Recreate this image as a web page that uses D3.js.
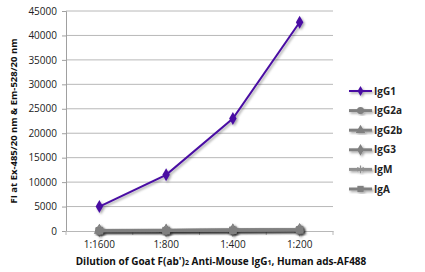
<!DOCTYPE html>
<html><head><meta charset="utf-8">
<script src="https://cdn.jsdelivr.net/npm/d3@7"></script>
<style>body{margin:0;background:#fff}svg{display:block}text{font-family:"Open Sans","Noto Sans",sans-serif}</style>
</head><body><svg id="c" width="425" height="272"></svg>
<script>
const categories = ["1:1600","1:800","1:400","1:200"];
const IgG1 = [5000, 11500, 23000, 42700];
const IgG2a = [100, 120, 180, 300];
const IgG2b = [90, 110, 160, 260];
const IgG3 = [80, 100, 150, 240];
const IgM = [110, 130, 200, 320];
const IgA = [70, 90, 140, 220];
const yTicks = [0,5000,10000,15000,20000,25000,30000,35000,40000,45000];
const seriesNames = ["IgG1","IgG2a","IgG2b","IgG3","IgM","IgA"];
const seriesValues = [IgG1, IgG2a, IgG2b, IgG3, IgM, IgA];
const colors = ["#4a0fa3","#808080","#808080","#808080","#909090","#808080"];
const symbols = [d3.symbolDiamond, d3.symbolCircle, d3.symbolTriangle, d3.symbolDiamond, d3.symbolAsterisk, d3.symbolSquare];

const svg = d3.select("#c");
const L=66,R=333,T=11,B=231;
const x = d3.scaleBand().domain(categories).range([L,R]);
const y = d3.scaleLinear().domain([0,45000]).range([B,T]);

const defs = svg.append("defs");
const f = defs.append("filter").attr("id","sh").attr("x","-20%").attr("y","-20%").attr("width","140%").attr("height","140%");
f.append("feDropShadow").attr("dx",1.5).attr("dy",1.5).attr("stdDeviation",1).attr("flood-color","#000").attr("flood-opacity",0.35);

// gridlines
svg.append("g").selectAll("line").data(yTicks.slice(1)).join("line")
  .attr("x1",L).attr("x2",R).attr("y1",d=>y(d)).attr("y2",d=>y(d))
  .attr("stroke","#b8b8b8").attr("stroke-width",1);

// y axis
const ya = svg.append("g").attr("transform",`translate(${L},0)`).call(d3.axisLeft(y).tickValues(yTicks).tickSize(4).tickPadding(5).tickFormat(d3.format("d")));
ya.select(".domain").attr("stroke","#a0a0a0");
ya.selectAll(".tick line").attr("stroke","#a0a0a0");
ya.selectAll("text").attr("font-size",10).attr("fill","#222");

// x axis
const xa = svg.append("g").attr("transform",`translate(0,${B})`).call(d3.axisBottom(x).tickSize(0).tickPadding(10));
xa.select(".domain").attr("stroke","#b8b8b8");
xa.selectAll("text").attr("font-size",10).attr("fill","#222");
const bounds = categories.map(c=>x(c)).concat([R]);
xa.selectAll(".bt").data(bounds).join("line").attr("class","bt")
  .attr("x1",d=>d).attr("x2",d=>d).attr("y1",0).attr("y2",4).attr("stroke","#b8b8b8");

// series
const line = d3.line().x((d,i)=>x(categories[i])+x.bandwidth()/2).y(d=>y(d));
const order = [1,2,3,4,5,0];
order.forEach(si=>{
  const g = svg.append("g").attr("filter","url(#sh)");
  g.append("path").datum(seriesValues[si]).attr("d",line).attr("fill","none")
    .attr("stroke",colors[si]).attr("stroke-width", si===0?2:3);
  g.selectAll("path.m").data(seriesValues[si]).join("path").attr("class","m")
    .attr("transform",(d,i)=>`translate(${x(categories[i])+x.bandwidth()/2},${y(d)})`)
    .attr("d",d3.symbol().type(symbols[si]).size(si===0?48:55))
    .attr("fill",colors[si]).attr("stroke",colors[si]).attr("stroke-width",si===4?1.5:0);
});

// legend
const lg = svg.append("g");
seriesNames.forEach((n,i)=>{
  const yy = 91 + i*19.6;
  const g = lg.append("g").attr("filter","url(#sh)");
  g.append("line").attr("x1",349).attr("x2",372).attr("y1",yy).attr("y2",yy).attr("stroke",colors[i]).attr("stroke-width",i===0?2:3);
  g.append("path").attr("transform",`translate(360.5,${yy})`).attr("d",d3.symbol().type(symbols[i]).size(i===0?30:40))
    .attr("fill",colors[i]).attr("stroke",colors[i]).attr("stroke-width",i===4?1.2:0);
  lg.append("text").attr("x",374).attr("y",yy).attr("dy","0.35em").attr("font-size",10).attr("font-weight","bold").attr("fill","#222").text(n);
});

// titles
svg.append("text").attr("transform",`translate(14,${(T+B)/2}) rotate(-90)`).attr("text-anchor","middle").attr("dy","0.35em")
  .attr("font-size",9.5).attr("font-weight","bold").attr("fill","#111").text("FI at Ex-485/20 nm & Em-528/20 nm");
const xt = svg.append("text").attr("x",221).attr("y",265).attr("text-anchor","middle").attr("font-size",10).attr("font-weight","bold").attr("fill","#111");
xt.append("tspan").text("Dilution of Goat F(ab')");
xt.append("tspan").attr("font-size",7).text("2");
xt.append("tspan").text(" Anti-Mouse IgG");
xt.append("tspan").attr("font-size",7).text("1");
xt.append("tspan").text(", Human ads-AF488");
</script></body></html>
